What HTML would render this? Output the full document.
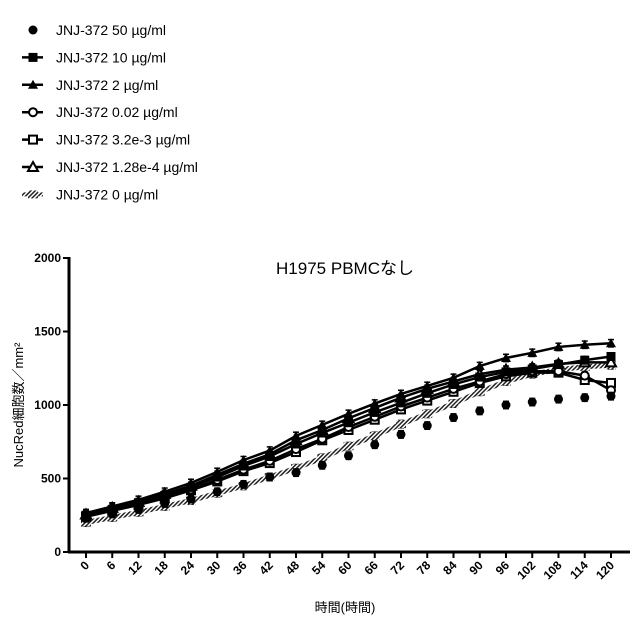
<!DOCTYPE html>
<html><head><meta charset="utf-8"><style>
body{margin:0;background:#fff;}
svg{display:block;font-family:"Liberation Sans","Noto Sans CJK JP",sans-serif;}
</style></head><body>
<svg id="chart" width="640" height="640" viewBox="0 0 640 640">
<defs>
<pattern id="hatch" width="3" height="3" patternUnits="userSpaceOnUse" patternTransform="rotate(45)">
<rect width="3" height="3" fill="#fff"/><rect width="1.5" height="3" fill="#222"/></pattern>
</defs>
<g id="legend"></g>
<text x="345" y="274" text-anchor="middle" font-size="17">H1975 PBMCなし</text>
<text transform="translate(23,405) rotate(-90)" text-anchor="middle" font-size="13">NucRed細胞数／mm²</text>
<text x="345" y="612" text-anchor="middle" font-size="13">時間(時間)</text>
<g id="axes"></g>
<g id="series"></g>
</svg>
<script>
const times=[0,6,12,18,24,30,36,42,48,54,60,66,72,78,84,90,96,102,108,114,120];
const yTicks=[0,500,1000,1500,2000];
const seriesNames=["JNJ-372 50 µg/ml","JNJ-372 10 µg/ml","JNJ-372 2 µg/ml","JNJ-372 0.02 µg/ml","JNJ-372 3.2e-3 µg/ml","JNJ-372 1.28e-4 µg/ml","JNJ-372 0 µg/ml"];
const s50=[230,260,290,330,360,410,460,510,540,590,655,730,800,860,915,960,1000,1020,1040,1050,1060];
const s10=[250,290,335,385,440,510,585,650,735,810,880,950,1015,1080,1140,1190,1225,1245,1275,1305,1330];
const s2=[265,310,355,410,470,545,625,690,790,865,940,1010,1075,1130,1185,1265,1320,1355,1395,1410,1420];
const s002=[245,285,325,375,425,490,560,620,700,770,850,920,990,1050,1110,1160,1210,1230,1230,1200,1100];
const s32e3=[240,280,320,365,420,480,550,605,680,760,830,900,970,1030,1090,1150,1195,1220,1220,1170,1150];
const s128e4=[255,300,340,395,450,525,600,665,760,830,910,980,1050,1110,1160,1210,1240,1255,1280,1290,1290];
const s0=[200,235,270,310,350,400,450,510,570,640,720,790,870,940,1010,1090,1160,1210,1240,1260,1270];
const errs=25;
const NS="http://www.w3.org/2000/svg";
const xs=t=>86+(t/120)*525;
const ys=v=>552-v*0.147;
function mk(tag,attrs,parent){const e=document.createElementNS(NS,tag);for(const k in attrs)e.setAttribute(k,attrs[k]);parent.appendChild(e);return e;}
const axes=document.getElementById('axes');
let a=mk('line',{x1:69,y1:257,x2:69,y2:553,stroke:'#000','stroke-width':3},axes);


a=mk('line',{x1:68,y1:552,x2:630,y2:552,stroke:'#000','stroke-width':3},axes);


yTicks.forEach(v=>{
 mk('line',{x1:63,y1:ys(v),x2:69,y2:ys(v),stroke:'#000','stroke-width':2},axes);
 const t=mk('text',{x:61,y:ys(v)+4,'text-anchor':'end','font-size':12,'font-weight':'bold'},axes);
 t.textContent=v;
 
 
});
times.forEach(v=>{
 const x=xs(v);
 mk('line',{x1:x,y1:552,x2:x,y2:558,stroke:'#000','stroke-width':2},axes);
 const t=mk('text',{x:x+4,y:566,'text-anchor':'end','font-size':12,'font-weight':'bold',transform:`rotate(-45 ${x+4} 566)`},axes);
 t.textContent=v;
 
 
});
function marker(type,x,y,g){
 if(type==='circle')mk('circle',{cx:x,cy:y,r:4.5,fill:'#000'},g);
 else if(type==='square')mk('rect',{x:x-4.5,y:y-4.5,width:9,height:9,fill:'#000'},g);
 else if(type==='tri')mk('polygon',{points:`${x},${y-5} ${x+5},${y+4} ${x-5},${y+4}`,fill:'#000'},g);
 else if(type==='ocircle')mk('circle',{cx:x,cy:y,r:4,fill:'#fff',stroke:'#000','stroke-width':2},g);
 else if(type==='osquare')mk('rect',{x:x-4,y:y-4,width:8,height:8,fill:'#fff',stroke:'#000','stroke-width':2},g);
 else if(type==='otri')mk('polygon',{points:`${x},${y-5} ${x+5},${y+4} ${x-5},${y+4}`,fill:'#fff',stroke:'#000','stroke-width':2},g);
 else mk('rect',{x:x-5,y:y-4,width:10,height:8,fill:'url(#hatch)'},g);
}
const defs=[[s50,'circle',false],[s10,'square',true],[s2,'tri',true],[s002,'ocircle',true],[s32e3,'osquare',true],[s128e4,'otri',true],[s0,'hatch',true]];
const sg=document.getElementById('series');
defs.slice().reverse().forEach(([data,type,line],i)=>{
 const g=mk('g',{},sg);
 
 
 if(line){
  const pts=data.map((v,j)=>xs(times[j])+','+ys(v)).join(' ');
  mk('polyline',{points:pts,fill:'none',stroke:type==='hatch'?'url(#hatch)':'#000','stroke-width':type==='hatch'?5:2.5},g);
 }
 data.forEach((v,j)=>{
  const x=xs(times[j]),y=ys(v);
  mk('line',{x1:x,y1:ys(v+errs),x2:x,y2:ys(v-errs),stroke:'#000','stroke-width':1.5},g);
  mk('line',{x1:x-3,y1:ys(v+errs),x2:x+3,y2:ys(v+errs),stroke:'#000','stroke-width':1.5},g);
  mk('line',{x1:x-3,y1:ys(v-errs),x2:x+3,y2:ys(v-errs),stroke:'#000','stroke-width':1.5},g);
  marker(type,x,y,g);
 });
});
const lg=document.getElementById('legend');
defs.forEach(([data,type,line],i)=>{
 const y=30+i*27.4;
 const g=mk('g',{},lg);
 
 
 if(line)mk('line',{x1:22,y1:y,x2:43,y2:y,stroke:type==='hatch'?'url(#hatch)':'#000','stroke-width':type==='hatch'?4:2.5},g);
 marker(type,33,y,g);
 const t=mk('text',{x:56,y:y+5,'font-size':14},g);
 t.textContent=seriesNames[i];
});
</script>
</body></html>
